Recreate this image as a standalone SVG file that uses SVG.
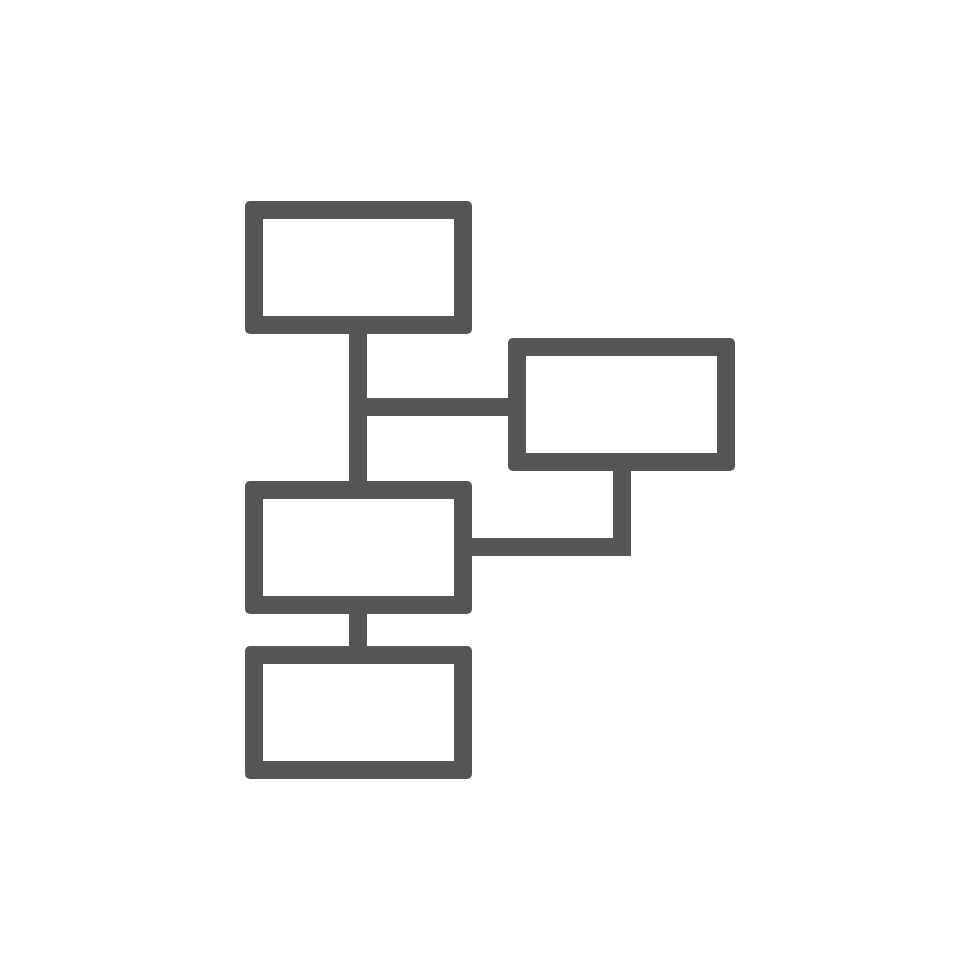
<svg xmlns="http://www.w3.org/2000/svg" width="980" height="980" viewBox="0 0 980 980">
<style>
.frame{fill:#555555}
.hole{fill:#ffffff}
.conn{fill:none;stroke:#555555;stroke-width:18;stroke-linecap:butt;stroke-linejoin:miter}
</style>
<rect width="980" height="980" fill="#ffffff"/>
<g id="connectors">
<path class="conn" d="M358 330 V485"/>
<path class="conn" d="M358 610 V650"/>
<path class="conn" d="M358 407 H512"/>
<path class="conn" d="M468 547 H622 V467"/>
</g>
<g id="box1">
<rect class="frame" x="245" y="201" width="227" height="133" rx="5"/>
<rect class="hole" x="263" y="219" width="191" height="97"/>
</g>
<g id="box2">
<rect class="frame" x="508" y="338" width="227" height="133" rx="5"/>
<rect class="hole" x="526" y="356" width="191" height="97"/>
</g>
<g id="box3">
<rect class="frame" x="245" y="481" width="227" height="133" rx="5"/>
<rect class="hole" x="263" y="499" width="191" height="97"/>
</g>
<g id="box4">
<rect class="frame" x="245" y="646" width="227" height="133" rx="5"/>
<rect class="hole" x="263" y="664" width="191" height="97"/>
</g>
</svg>
